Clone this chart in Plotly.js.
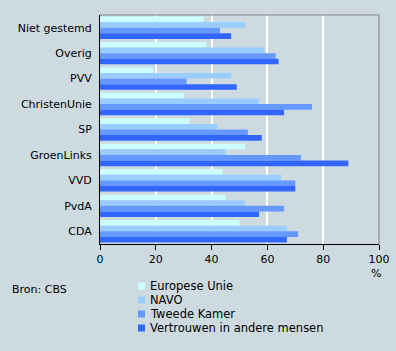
<!DOCTYPE html>
<html><head><meta charset="utf-8">
<script src="https://cdn.plot.ly/plotly-3.0.1.min.js"></script>
<style>html,body{margin:0;padding:0;background:#cddbe0}</style>
</head><body>
<div id="chart" style="width:396px;height:351px"></div>
<script>
const categories = ["Niet gestemd","Overig","PVV","ChristenUnie","SP","GroenLinks","VVD","PvdA","CDA"];
const europeseUnie = [37,38,19,30,32,52,44,45,50];
const navo = [52,59,47,57,42,45,65,52,67];
const tweedeKamer = [43,63,31,76,53,72,70,66,71];
const vertrouwen = [47,64,49,66,58,89,70,57,67];
const seriesNames = ["Europese Unie","NAVO","Tweede Kamer","Vertrouwen in andere mensen"];
const seriesValues = [europeseUnie, navo, tweedeKamer, vertrouwen];
const colors = ["#ccffff","#99ccff","#6699ff","#3366ff"];
const xTicks = [0,20,40,60,80,100];

const traces = seriesValues.map((vals,i)=>({
  type:"bar", orientation:"h", name:seriesNames[i], y:categories, x:vals,
  marker:{color:colors[i], line:{width:0}}, showlegend:false
}));
const font = {family:"DejaVu Sans, Verdana, sans-serif", size:11, color:"#000"};
const legendFont = {family:font.family, size:11.5, color:"#000"};

const shapes = [
  {type:"line", xref:"paper", yref:"paper", x0:0, x1:1, y0:1, y1:1, line:{color:"#808080", width:1}},
  {type:"line", xref:"paper", yref:"paper", x0:1, x1:1, y0:0, y1:1, line:{color:"#808080", width:1}}
];
const annotations = [
  {text:"%", xref:"paper", yref:"paper", x:1, y:0, yshift:-29, showarrow:false, xanchor:"center", yanchor:"middle", xshift:-3, font:font},
  {text:"Bron: CBS", xref:"paper", yref:"paper", x:0, y:0, xshift:-90, yshift:-45, showarrow:false, xanchor:"left", yanchor:"middle", font:font}
];
// custom legend (pixel offsets from the plot's bottom-left corner)
seriesNames.forEach((name,i)=>{
  const cy = -42 - i*14;
  shapes.push({type:"rect", xref:"paper", yref:"paper", xsizemode:"pixel", ysizemode:"pixel",
    xanchor:0, yanchor:0, x0:38, x1:45, y0:cy-3.5, y1:cy+3.5, fillcolor:colors[i], line:{width:0}});
  annotations.push({text:name, xref:"paper", yref:"paper", x:0, y:0, xshift:48, yshift:cy,
    xanchor:"left", yanchor:"middle", showarrow:false, font:legendFont});
});

const layout = {
  width:396, height:351,
  margin:{l:100,r:17,t:15,b:107},
  paper_bgcolor:"#cddbe0", plot_bgcolor:"#cddbe0",
  font:font,
  barmode:"group", bargap:0.12, bargroupgap:0,
  showlegend:false,
  xaxis:{range:[0,100], tickvals:xTicks, ticktext:xTicks.map(String), showgrid:true, gridcolor:"#ffffff", gridwidth:2,
    zeroline:false, showline:true, linecolor:"#000", linewidth:1, ticks:"outside", ticklen:5, tickcolor:"#000", fixedrange:true},
  yaxis:{autorange:"reversed", showline:true, linecolor:"#000", linewidth:1, ticks:"", ticklabelstandoff:5, showgrid:false, fixedrange:true},
  shapes:shapes,
  annotations:annotations
};
Plotly.newPlot("chart", traces, layout, {displayModeBar:false, staticPlot:true});
</script>
</body></html>
